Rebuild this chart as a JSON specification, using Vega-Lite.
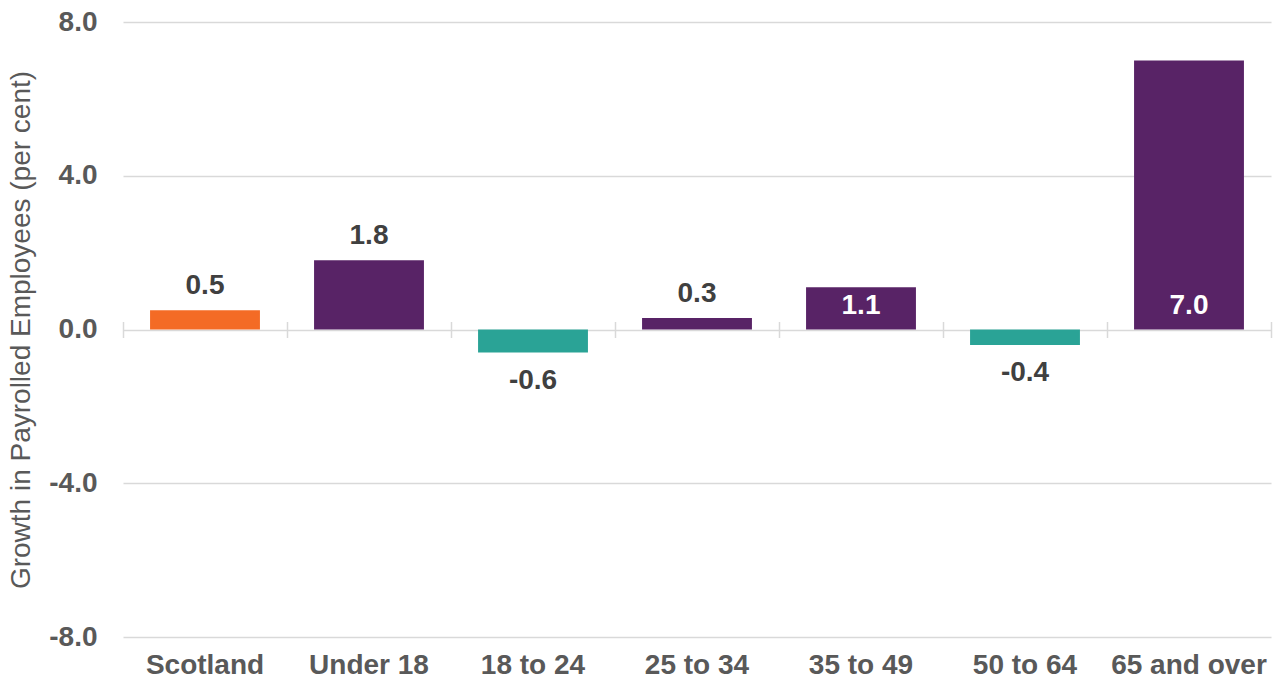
{
  "$schema": "https://vega.github.io/schema/vega-lite/v6.json",
  "width": 1148,
  "height": 615,
  "autosize": {"type": "none"},
  "padding": {"left": 123, "top": 22, "right": 13, "bottom": 43},
  "background": "white",
  "config": {
    "font": "Liberation Sans",
    "view": {"stroke": null},
    "locale": {"number": {"decimal": ".", "thousands": ",", "grouping": [3], "currency": ["", ""], "minus": "-"}}
  },
  "data": {"values": [
    {"group": "Scotland", "growth": 0.5, "type": "Scotland"},
    {"group": "Under 18", "growth": 1.8, "type": "Increase"},
    {"group": "18 to 24", "growth": -0.6, "type": "Decrease"},
    {"group": "25 to 34", "growth": 0.3, "type": "Increase"},
    {"group": "35 to 49", "growth": 1.1, "type": "Increase"},
    {"group": "50 to 64", "growth": -0.4, "type": "Decrease"},
    {"group": "65 and over", "growth": 7.0, "type": "Increase"}
  ]},
  "resolve": {"scale": {"x": "independent"}, "axis": {"x": "independent"}},
  "layer": [
    {
      "encoding": {
        "x": {"field": "group", "type": "nominal", "sort": null,
          "scale": {"paddingInner": 0.33, "paddingOuter": 0.165},
          "axis": {"title": null, "labelAngle": 0, "ticks": false, "domain": false, "labelFontSize": 28, "labelFontWeight": "bold", "labelColor": "#595959", "labelPadding": 14}},
        "y": {"field": "growth", "type": "quantitative",
          "scale": {"domain": [-8, 8], "nice": false, "zero": false},
          "axis": {"values": [-8, -4, 0, 4, 8], "format": ".1f", "grid": true, "gridColor": "#D9D9D9", "gridWidth": 1.5, "domain": false, "ticks": false,
            "labelFontSize": 28, "labelFontWeight": "bold", "labelColor": "#595959", "labelPadding": 26,
            "title": "Growth in Payrolled Employees (per cent)", "titleFontSize": 28, "titleFontWeight": "normal", "titleColor": "#595959", "titlePadding": 13}}
      },
      "layer": [
        {
          "mark": {"type": "bar"},
          "encoding": {
            "color": {"field": "type", "type": "nominal",
              "scale": {"domain": ["Scotland", "Increase", "Decrease"], "range": ["#F46B25", "#582366", "#2AA396"]},
              "legend": null}
          }
        },
        {
          "mark": {"type": "text", "baseline": "bottom", "dy": -10, "fontSize": 28, "fontWeight": "bold", "color": "#404040"},
          "encoding": {
            "text": {"field": "growth", "type": "quantitative", "format": ".1f"},
            "opacity": {"condition": {"test": "indexof(['Scotland', 'Under 18', '25 to 34'], datum.group) >= 0", "value": 1}, "value": 0}
          }
        },
        {
          "mark": {"type": "text", "baseline": "top", "dy": 14, "fontSize": 28, "fontWeight": "bold", "color": "#404040"},
          "encoding": {
            "text": {"field": "growth", "type": "quantitative", "format": ".1f"},
            "opacity": {"condition": {"test": "datum.growth < 0", "value": 1}, "value": 0}
          }
        },
        {
          "mark": {"type": "text", "baseline": "middle", "dy": -24, "fontSize": 28, "fontWeight": "bold", "color": "white"},
          "encoding": {
            "y": {"datum": 0},
            "text": {"field": "growth", "type": "quantitative", "format": ".1f"},
            "opacity": {"condition": {"test": "indexof(['35 to 49', '65 and over'], datum.group) >= 0", "value": 1}, "value": 0}
          }
        }
      ]
    },
    {
      "mark": {"type": "bar", "opacity": 0},
      "encoding": {
        "x": {"field": "group", "type": "nominal", "sort": null,
          "scale": {"paddingInner": 0, "paddingOuter": 0},
          "axis": {"title": null, "labels": false, "domain": false, "ticks": true, "tickBand": "extent", "tickColor": "#D9D9D9", "tickWidth": 1.5, "tickSize": 16, "offset": -315.5}},
        "y": {"field": "growth", "type": "quantitative"}
      }
    }
  ]
}
